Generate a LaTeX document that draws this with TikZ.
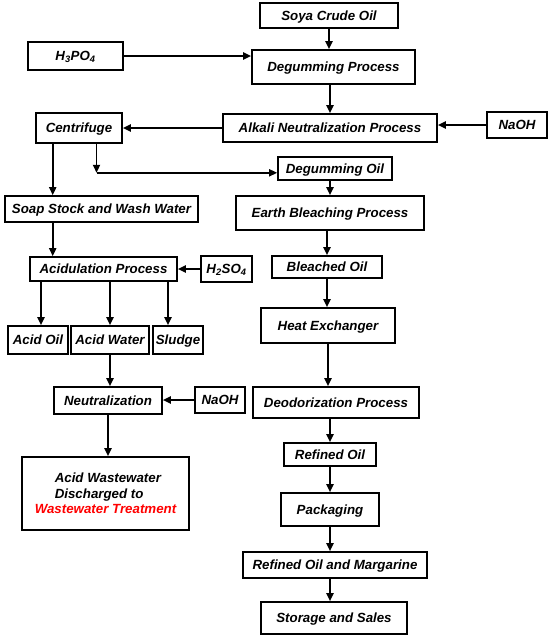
\documentclass[tikz,border=0pt]{standalone}
\usepackage{fontspec}
\setmainfont{Liberation Sans}
\usepackage{xcolor}
\usepackage{tikz}
\usetikzlibrary{arrows.meta}
\usetikzlibrary{calc}

\tikzset{
  boxbase/.style={draw,line width=1.6pt,inner sep=0pt,
    font=\fontsize{13.3}{15.5}\selectfont\bfseries\itshape},
  box/.style={boxbase,text height=9.5pt,text depth=0pt},
  arr/.style={->,line width=1.8pt}
}

\begin{document}
\begin{tikzpicture}[line cap=butt,line join=miter,>={Triangle[length=8pt,width=7pt]},x=1pt,y=-1pt]
\useasboundingbox (0,0) rectangle (550,638);
% right column
\node[box,minimum width=138,minimum height=25] (soya) at (329,15.5) {Soya Crude Oil};
\node[box,minimum width=163,minimum height=34] (degum) at (333.5,67) {Degumming Process};
\node[box,minimum width=214,minimum height=28] (alkali) at (330,128) {Alkali Neutralization Process};
\node[box,minimum width=60,minimum height=26] (naohA) at (517,125) {NaOH};
\node[box,minimum width=95,minimum height=28] (hpo) at (75.5,56) {H\textsubscript{3}PO\textsubscript{4}};
\node[box,minimum width=86,minimum height=30] (centri) at (79,128) {Centrifuge};
\node[box,minimum width=114,minimum height=23] (degoil) at (335,168.5) {Degumming Oil};
\node[box,minimum width=188,minimum height=34] (earth) at (330,213) {Earth Bleaching Process};
\node[box,minimum width=110,minimum height=22] (bleach) at (327,267) {Bleached Oil};
\node[box,minimum width=134,minimum height=35] (heat) at (328,325.5) {Heat Exchanger};
\node[box,minimum width=166,minimum height=31] (deodor) at (336,402.5) {Deodorization Process};
\node[box,minimum width=92,minimum height=23] (refoil) at (330,454.5) {Refined Oil};
\node[box,minimum width=98,minimum height=33] (pack) at (330,509.5) {Packaging};
\node[box,minimum width=184,minimum height=26] (margar) at (335,565) {Refined Oil and Margarine};
\node[box,minimum width=146,minimum height=32] (store) at (334,618) {Storage and Sales};
% left column
\node[box,minimum width=193,minimum height=26] (soap) at (101.5,209) {Soap Stock and Wash Water};
\node[box,minimum width=147,minimum height=24] (acidul) at (103.5,269) {Acidulation Process};
\node[box,minimum width=51,minimum height=26] (hso) at (226.5,269) {H\textsubscript{2}SO\textsubscript{4}};
\node[box,minimum width=60,minimum height=28] (acidoil) at (38,340) {Acid Oil};
\node[box,minimum width=78,minimum height=28] (acidwat) at (110,340) {Acid Water};
\node[box,minimum width=50,minimum height=28] (sludge) at (178,340) {Sludge};
\node[box,minimum width=108,minimum height=27] (neutral) at (108,400.5) {Neutralization};
\node[box,minimum width=50,minimum height=26] (naohB) at (220,400) {NaOH};
\node[boxbase,align=left,minimum width=167,minimum height=73] (waste) at (105.5,493.5) {\hspace*{20pt}Acid Wastewater\\\hspace*{20pt}Discharged to\\\textcolor{red}{Wastewater Treatment}};

\coordinate (cl) at ($(centri.south west)!0.2!(centri.south east)$);
\coordinate (cr) at ($(centri.south west)!0.7!(centri.south east)$);
\coordinate (split) at ($(cr)+(0,29)$);

\draw[arr] (soya.south) -- (soya.south |- degum.north);
\draw[arr] (degum.south -| alkali.north) -- (alkali.north);
\draw[arr] (hpo.east) -- (hpo.east -| degum.west);
\draw[arr] (naohA.west) -- (naohA.west -| alkali.east);
\draw[arr] (alkali.west) -- (centri.east);
\draw[arr] (cl) -- (cl |- soap.north);
\draw[arr] (cr) -- (split);
\draw[arr] (split) -- (split -| degoil.west);
\draw[arr] (degoil.south -| earth.north) -- (earth.north);
\draw[arr] (earth.south -| bleach.north) -- (bleach.north);
\draw[arr] (bleach.south) -- (bleach.south |- heat.north);
\draw[arr] (heat.south) -- (heat.south |- deodor.north);
\draw[arr] (deodor.south -| refoil.north) -- (refoil.north);
\draw[arr] (refoil.south) -- (refoil.south |- pack.north);
\draw[arr] (pack.south) -- (pack.south |- margar.north);
\draw[arr] (margar.south -| pack.south) -- (pack.south |- store.north);
\draw[arr] (cl |- soap.south) -- (cl |- acidul.north);
\draw[arr] (hso.west) -- (hso.west -| acidul.east);
\draw[arr] ($(acidoil.north |- acidul.south)+(3,0)$) -- ($(acidoil.north)+(3,0)$);
\draw[arr] (acidwat.north |- acidul.south) -- (acidwat.north);
\draw[arr] ($(sludge.north |- acidul.south)+(-10,0)$) -- ($(sludge.north)+(-10,0)$);
\draw[arr] (acidwat.south) -- (acidwat.south |- neutral.north);
\draw[arr] (naohB.west) -- (naohB.west -| neutral.east);
\draw[arr] (neutral.south) -- (neutral.south |- waste.north);
\end{tikzpicture}
\end{document}
